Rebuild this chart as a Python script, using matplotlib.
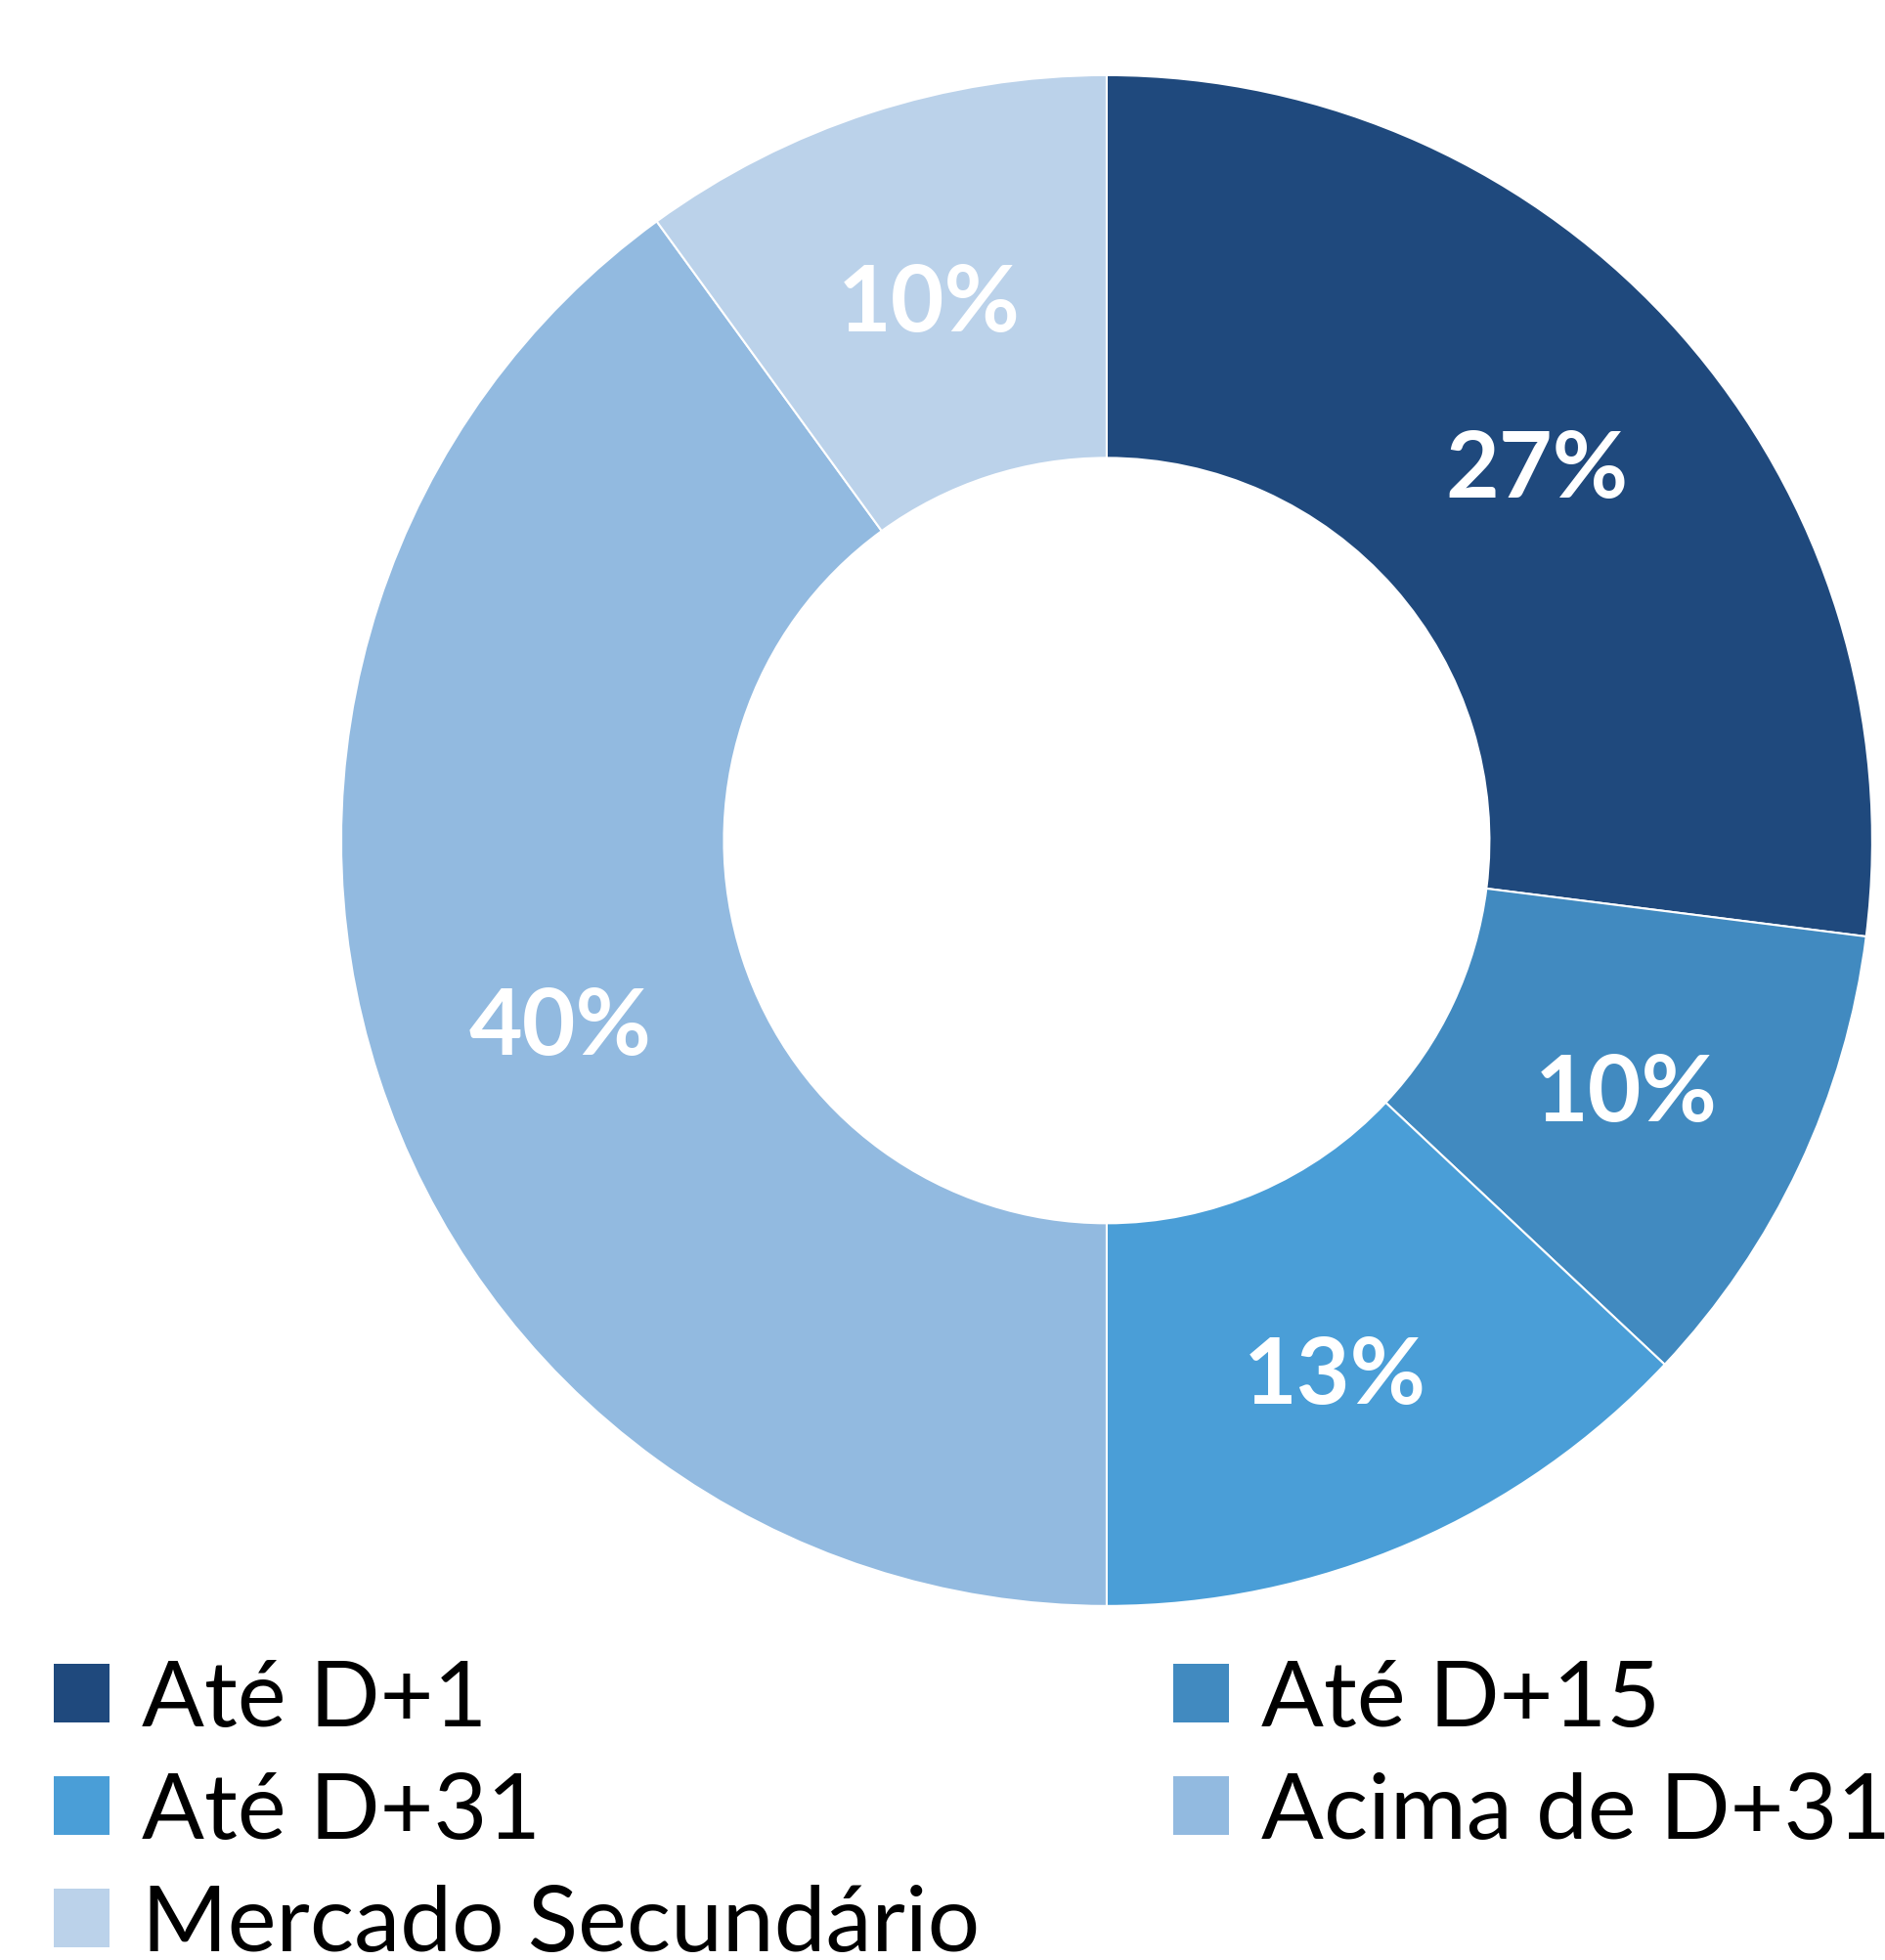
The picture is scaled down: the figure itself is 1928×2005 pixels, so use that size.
import matplotlib.pyplot as plt
from matplotlib.patches import Patch

categories = ['Até D+1', 'Até D+15', 'Até D+31', 'Acima de D+31', 'Mercado Secundário']
shares = [27, 10, 13, 40, 10]
colors = ['#1F497D', '#418AC0', '#4A9ED7', '#92BAE0', '#BBD2EA']

plt.rcParams['font.family'] = ['Lato', 'DejaVu Sans']

fig = plt.figure(figsize=(19.28, 20.06), dpi=100)
ax = fig.add_axes([0.1810, 0.1805, 0.8122, 0.7807])

wedges, texts, autotexts = ax.pie(
    shares, colors=colors, startangle=90, counterclock=False,
    radius=1.0, autopct='%.0f%%', pctdistance=0.75,
    wedgeprops=dict(width=0.5, edgecolor='white', linewidth=1.5),
    textprops=dict(color='white', fontsize=68, fontweight='bold'))
for t in autotexts:
    x, y = t.get_position()
    t.set_position((x, y - 0.012))
ax.set_xlim(-1, 1)
ax.set_ylim(-1, 1)
ax.set_aspect('equal')
ax.axis('off')

# legend fills columns first, so reorder to get row-wise layout
order = [0, 2, 4, 1, 3]
handles = [Patch(facecolor=colors[i], edgecolor='none') for i in order]
labels = [categories[i] for i in order]
fig.legend(handles, labels, loc='upper left', bbox_to_anchor=(55 / 1928, 1 - 1698 / 2006),
           ncol=2, frameon=False, fontsize=68, borderpad=0, borderaxespad=0,
           handlelength=0.6, handleheight=0.6, handletextpad=0.35,
           labelspacing=0.33, columnspacing=2.1)

fig.savefig('out.png', dpi=100)
